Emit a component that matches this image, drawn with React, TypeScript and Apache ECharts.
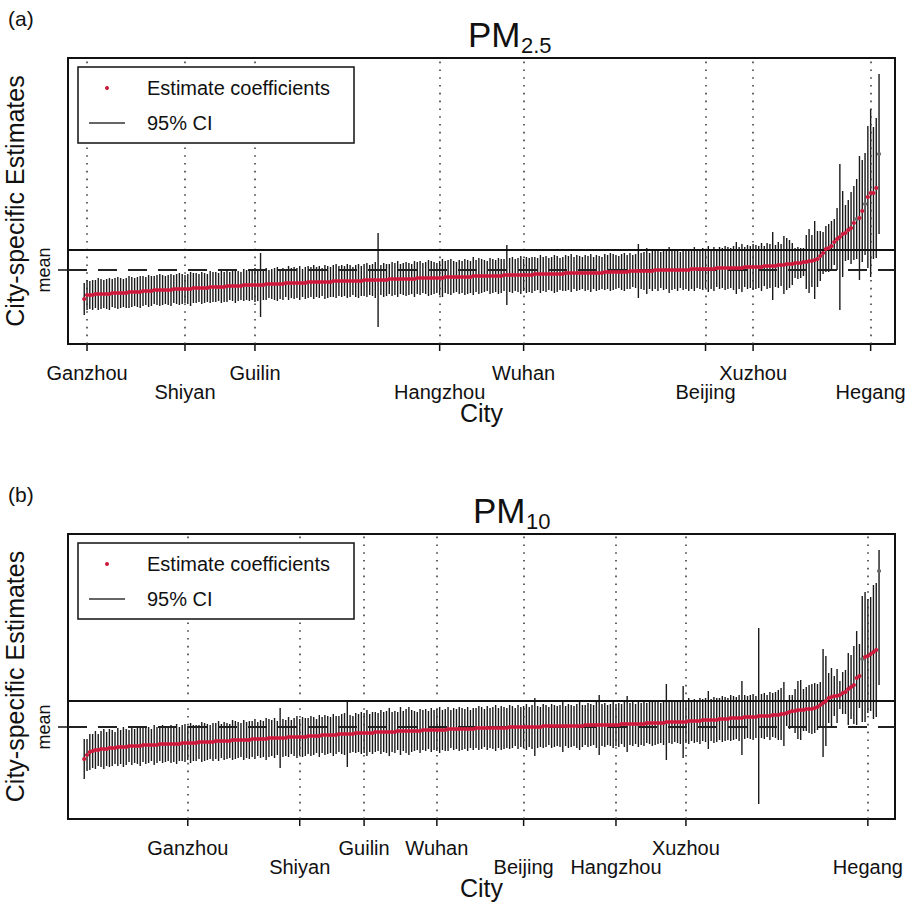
import React, { useEffect, useRef } from 'react';
import * as echarts from 'echarts';

// ---------- data (values relative to the mean, arbitrary units) ----------
const estA = [
  -29,-25,-25,-25,-24,-24,-24,-24,-24,-24,
  -23,-23,-23,-23,-23,-23,-22,-22,-22,-22,
  -22,-21,-21,-21,-21,-20,-20,-20,-20,-20,
  -20,-20,-19,-19,-19,-19,-19,-19,-19,-18,
  -18,-18,-18,-18,-18,-17,-17,-17,-17,-17,
  -17,-16,-16,-16,-16,-16,-16,-15,-15,-15,
  -15,-15,-15,-15,-15,-14,-14,-14,-14,-14,
  -14,-14,-13,-13,-13,-13,-13,-13,-13,-13,
  -12,-12,-12,-12,-12,-12,-12,-12,-12,-11,
  -11,-11,-11,-11,-11,-11,-11,-11,-11,-11,
  -10,-10,-10,-10,-10,-10,-10,-10,-10,-9,
  -9,-9,-9,-9,-9,-9,-9,-9,-9,-8,
  -8,-8,-8,-8,-8,-8,-8,-8,-8,-7,
  -7,-7,-7,-7,-7,-7,-7,-7,-7,-6,
  -6,-6,-6,-6,-6,-6,-6,-6,-6,-6,
  -5,-5,-5,-5,-5,-5,-5,-5,-5,-5,
  -5,-4,-4,-4,-4,-4,-4,-4,-4,-4,
  -4,-4,-3,-3,-3,-3,-3,-3,-3,-3,
  -3,-3,-3,-3,-3,-3,-2,-2,-2,-2,
  -2,-2,-2,-2,-2,-1,-1,-1,-1,-1,
  -1,-1,-1,-1,0,0,0,0,0,0,
  0,0,0,0,0,0,0,1,1,1,
  1,1,1,1,1,1,2,2,2,2,
  2,2,2,2,2,2,3,3,3,3,
  3,3,3,4,4,4,4,4,5,5,
  5,6,6,6,7,7,7,8,8,9,
  9,10,11,14,17,21,22,24,28,31,
  33,36,37,40,42,47,51,52,59,66,
  73,77,77,82,116,
];
const hwA = [
  16,15,14,15,14,16,15,14,15,16,
  14,15,16,15,14,15,16,15,14,15,
  16,15,14,16,15,14,15,16,15,14,
  15,16,14,15,16,15,14,15,17,15,
  15,14,16,15,14,16,15,15,14,16,
  15,16,14,15,17,15,14,16,15,16,
  15,17,16,32,15,16,14,15,16,17,
  15,16,14,17,15,16,15,17,14,16,
  16,15,17,15,16,14,17,16,15,16,
  17,15,16,15,17,16,14,16,17,15,
  16,17,15,16,18,47,15,17,16,15,
  17,16,18,15,16,17,16,15,18,16,
  17,15,16,18,17,16,15,17,19,16,
  17,18,16,15,17,16,18,17,16,19,
  16,18,17,16,15,18,17,16,18,17,
  16,30,17,18,16,17,19,16,18,17,
  18,17,16,19,17,18,16,17,19,18,
  16,17,18,17,19,16,18,17,16,18,
  17,19,16,18,17,16,18,17,19,18,
  17,16,18,19,17,18,16,17,27,18,
  19,23,18,20,19,21,18,20,19,23,
  20,19,21,18,20,19,21,20,22,19,
  20,21,19,23,20,22,19,21,20,22,
  21,20,22,26,21,24,20,22,21,23,
  22,21,24,20,23,22,34,21,23,21,
  29,26,24,21,15,16,15,14,27,32,
  26,39,28,25,21,23,24,25,23,31,
  73,43,28,30,36,37,40,62,51,51,
  71,84,66,70,80,
];
const estB = [
  -32,-28,-25,-24,-23,-23,-22,-22,-22,-21,
  -21,-21,-20,-20,-20,-20,-19,-19,-19,-19,
  -19,-18,-18,-18,-18,-18,-18,-17,-17,-17,
  -17,-17,-17,-17,-17,-16,-16,-16,-16,-16,
  -16,-15,-15,-15,-15,-15,-15,-14,-14,-14,
  -14,-14,-14,-13,-13,-13,-13,-13,-13,-13,
  -12,-12,-12,-12,-12,-12,-11,-11,-11,-11,
  -11,-11,-11,-10,-10,-10,-10,-10,-10,-10,
  -9,-9,-9,-9,-9,-8,-8,-8,-8,-8,
  -8,-7,-7,-7,-7,-7,-7,-6,-6,-6,
  -6,-6,-6,-6,-5,-5,-5,-5,-5,-5,
  -5,-5,-4,-4,-4,-4,-4,-4,-4,-4,
  -4,-3,-3,-3,-3,-3,-3,-3,-3,-3,
  -2,-2,-2,-2,-2,-2,-2,-2,-2,-2,
  -1,-1,-1,-1,-1,-1,-1,-1,-1,-1,
  -1,-1,0,0,0,0,0,0,0,0,
  0,0,0,0,1,1,1,1,1,1,
  1,1,1,1,1,1,1,1,1,2,
  2,2,2,2,2,2,2,2,2,2,
  2,2,3,3,3,3,3,3,3,3,
  3,4,4,4,4,4,4,4,5,5,
  5,5,5,5,5,5,6,6,6,6,
  6,7,7,7,7,7,7,8,8,8,
  8,9,9,9,9,9,10,10,10,10,
  10,11,11,11,11,11,12,12,12,13,
  13,14,15,16,16,17,17,17,18,18,
  18,19,20,22,24,26,29,30,31,31,
  32,34,35,38,40,42,49,51,68,70,
  71,73,75,77,156,
];
const hwB = [
  20,16,18,17,19,16,18,20,17,19,
  18,16,19,17,20,18,16,19,17,18,
  20,17,19,18,16,20,18,17,19,18,
  17,19,18,20,17,18,19,17,20,18,
  18,17,20,19,18,17,19,18,20,17,
  19,18,17,20,19,18,17,20,18,19,
  18,20,17,19,18,21,19,18,20,17,
  30,19,18,20,17,19,21,18,20,19,
  18,20,19,17,21,18,20,19,18,21,
  19,18,20,21,33,19,18,20,19,21,
  20,23,19,21,20,19,22,20,21,24,
  20,21,19,24,20,22,24,21,20,19,
  22,20,21,19,22,20,21,23,20,21,
  22,19,21,20,22,21,20,22,19,21,
  20,22,21,19,22,20,21,23,20,22,
  21,20,22,21,19,22,20,21,23,20,
  22,29,21,20,22,21,19,22,21,20,
  21,26,20,22,21,20,22,24,21,20,
  22,21,20,23,30,21,22,20,21,23,
  21,22,20,23,28,21,22,20,23,21,
  22,20,21,23,22,21,20,22,38,21,
  22,20,21,22,36,21,23,20,22,21,
  23,21,22,29,21,23,22,21,23,22,
  21,23,22,21,23,37,22,21,22,23,
  21,88,22,23,21,24,22,23,25,26,
  32,13,17,16,22,29,30,21,22,24,
  25,25,23,23,54,45,25,29,20,27,
  14,21,22,36,32,39,47,32,63,65,
  57,57,67,67,67,
];
// points drawn grey in the picture (1-based city rank)
const grayA = [277, 280, 285];
const grayB = [279, 285];
// CI bars whose span is not centred on the estimate: [rank, low, high]
const ciOverrideA: number[][] = [];
const ciOverrideB = [[285, 42, 177]];

// labelled cities (rank on the x axis) and their label row
const cityA = ['Ganzhou', 'Shiyan', 'Guilin', 'Hangzhou', 'Wuhan', 'Beijing', 'Xuzhou', 'Hegang'];
const rankA = [2, 37, 62, 128, 158, 223, 240, 282];
const rowA = [1, 2, 1, 2, 1, 2, 1, 2];
const cityB = ['Ganzhou', 'Shiyan', 'Guilin', 'Wuhan', 'Beijing', 'Hangzhou', 'Xuzhou', 'Hegang'];
const rankB = [38, 78, 101, 127, 158, 191, 216, 281];
const rowB = [1, 2, 1, 1, 2, 2, 1, 2];

// reference levels: mean = 0, solid line level, axis extents
const solidA = 20;
const solidB = 26;
const yRangeA = [-74, 212];
const yRangeB = [-92, 193];
const xRange = [-4.8, 290.7];

const RED = '#cc1a3c';
const INK = '#111111';
const FONT = 'Liberation Sans, Arial, Helvetica, sans-serif';

function panel(
  g: number,
  est: number[],
  hw: number[],
  gray: number[],
  override: number[][],
  cities: string[],
  ranks: number[],
  rows: number[],
  yRange: number[],
  solid: number,
) {
  const nameOf: Record<number, string> = {};
  ranks.forEach((r, k) => (nameOf[r] = cities[k]));
  const fmt = (v: number) => nameOf[Math.round(v)] ?? '';
  const row1 = ranks.filter((_, k) => rows[k] === 1);
  const row2 = ranks.filter((_, k) => rows[k] === 2);

  const ci = est.map((e, k) => {
    const o = override.find((r) => r[0] === k + 1);
    return o ? [k + 1, o[1], o[2]] : [k + 1, e - hw[k], e + hw[k]];
  });
  const pts = est.map((e, k) =>
    gray.includes(k + 1) ? { value: [k + 1, e], itemStyle: { color: '#6a6a6a' } } : [k + 1, e],
  );

  const xAxes = [
    {
      gridIndex: g,
      type: 'value',
      min: xRange[0],
      max: xRange[1],
      position: 'bottom',
      axisLine: { show: false },
      splitLine: { show: false },
      axisTick: { show: false },
      axisLabel: { show: true, customValues: row1, formatter: fmt, margin: 19, fontSize: 20, color: INK, fontFamily: FONT },
      name: 'City',
      nameLocation: 'middle',
      nameGap: 56,
      nameTextStyle: { fontSize: 25, color: INK, fontFamily: FONT },
    },
    {
      gridIndex: g,
      type: 'value',
      min: xRange[0],
      max: xRange[1],
      position: 'bottom',
      axisLine: { show: false },
      splitLine: { show: false },
      axisTick: { show: false },
      axisLabel: { show: true, customValues: row2, formatter: fmt, margin: 38, fontSize: 20, color: INK, fontFamily: FONT },
    },
  ];
  const yAxis = {
    gridIndex: g,
    type: 'value',
    min: yRange[0],
    max: yRange[1],
    axisLine: { show: false },
    splitLine: { show: false },
    axisTick: { show: false },
    axisLabel: { show: true, customValues: [0], formatter: () => 'mean', rotate: 90, margin: 15, fontSize: 18, color: INK, fontFamily: FONT },
    name: 'City-specific Estimates',
    nameLocation: 'middle',
    nameGap: 40,
    nameRotate: 90,
    nameTextStyle: { fontSize: 25, color: INK, fontFamily: FONT },
  };
  const tickStyle = { stroke: INK, lineWidth: 1.5 };
  const series = [
    {
      type: 'custom',
      xAxisIndex: 2 * g,
      yAxisIndex: g,
      silent: true,
      z: 2,
      data: ci,
      encode: { x: 0, y: [1, 2] },
      renderItem: (_p: any, api: any) => {
        const x = api.value(0);
        const a = api.coord([x, api.value(1)]);
        const b = api.coord([x, api.value(2)]);
        return { type: 'line', shape: { x1: a[0], y1: a[1], x2: b[0], y2: b[1] }, style: { stroke: '#1a1a1a', lineWidth: 1.4 } };
      },
      markLine: {
        silent: true,
        symbol: ['none', 'none'],
        label: { show: false },
        data: [
          ...ranks.map((r) => ({ xAxis: r, lineStyle: { type: [1.6, 6.2], color: '#333', width: 1.5 } })),
          { yAxis: 0, lineStyle: { type: [19, 11], color: '#222', width: 2 } },
          { yAxis: solid, lineStyle: { type: 'solid', color: INK, width: 2 } },
        ],
      },
    },
    {
      // x-axis ticks at the labelled cities (below the plot box)
      type: 'custom',
      xAxisIndex: 2 * g,
      yAxisIndex: g,
      silent: true,
      clip: false,
      z: 3,
      data: ranks.map((r) => [r, yRange[0]]),
      renderItem: (_p: any, api: any) => {
        const p = api.coord([api.value(0), api.value(1)]);
        return { type: 'line', shape: { x1: p[0], y1: p[1], x2: p[0], y2: p[1] + 7 }, style: tickStyle };
      },
    },
    {
      // y-axis tick at the mean
      type: 'custom',
      xAxisIndex: 2 * g,
      yAxisIndex: g,
      silent: true,
      clip: false,
      z: 3,
      data: [[xRange[0], 0]],
      renderItem: (_p: any, api: any) => {
        const p = api.coord([api.value(0), api.value(1)]);
        return { type: 'line', shape: { x1: p[0] - 10, y1: p[1], x2: p[0], y2: p[1] }, style: tickStyle };
      },
    },
    {
      type: 'scatter',
      xAxisIndex: 2 * g,
      yAxisIndex: g,
      silent: true,
      z: 5,
      symbolSize: 4.2,
      itemStyle: { color: RED, opacity: 1 },
      data: pts,
    },
  ];
  return { xAxes, yAxis, series };
}

function legendAndTitles(top: number, tag: string, sub: string, subX: number) {
  const t = (text: string, x: number, y: number, size: number, extra: any = {}) => ({
    type: 'text',
    x,
    y,
    z: 100,
    style: {
      text,
      fontSize: size,
      fontFamily: FONT,
      fill: INK,
      align: 'left',
      verticalAlign: 'middle',
      textAlign: 'left',
      textVerticalAlign: 'middle',
      ...extra,
    },
  });
  return [
    t(tag, 8, top + 18, 21),
    t('PM', subX - 53, top + 34, 35),
    t(sub, subX, top + 45, 22),
    {
      type: 'rect',
      z: 100,
      shape: { x: 78, y: top + 67, width: 276, height: 76 },
      style: { fill: '#fff', stroke: INK, lineWidth: 1.5 },
    },
    { type: 'circle', z: 101, shape: { cx: 107, cy: top + 88, r: 2 }, style: { fill: RED } },
    { type: 'line', z: 101, shape: { x1: 89, y1: top + 123, x2: 125, y2: top + 123 }, style: { stroke: '#333', lineWidth: 1.3 } },
    { ...t('Estimate coefficients', 147, top + 88, 20), z: 101 },
    { ...t('95% CI', 147, top + 123, 20), z: 101 },
  ];
}

export default function App() {
  const ref = useRef<HTMLDivElement>(null);
  useEffect(() => {
    if (!ref.current) return;
    const chart = echarts.init(ref.current, undefined, { renderer: 'svg' });
    const a = panel(0, estA, hwA, grayA, ciOverrideA, cityA, rankA, rowA, yRangeA, solidA);
    const b = panel(1, estB, hwB, grayB, ciOverrideB, cityB, rankB, rowB, yRangeB, solidB);
    const gridBase = { show: true, borderColor: INK, borderWidth: 2, backgroundColor: 'transparent', containLabel: false, outerBoundsMode: 'none' };
    chart.setOption({
      animation: false,
      backgroundColor: '#fff',
      textStyle: { fontFamily: FONT },
      grid: [
        { ...gridBase, left: 68, top: 58, width: 827, height: 286 },
        { ...gridBase, left: 68, top: 534, width: 827, height: 285 },
      ],
      xAxis: [...a.xAxes, ...b.xAxes],
      yAxis: [a.yAxis, b.yAxis],
      series: [...a.series, ...b.series],
      graphic: [...legendAndTitles(0, '(a)', '2.5', 521), ...legendAndTitles(476, '(b)', '10', 526)],
    });
    return () => chart.dispose();
  }, []);
  return <div ref={ref} style={{ position: 'fixed', left: 0, top: 0, width: 911, height: 904, background: '#fff' }} />;
}
